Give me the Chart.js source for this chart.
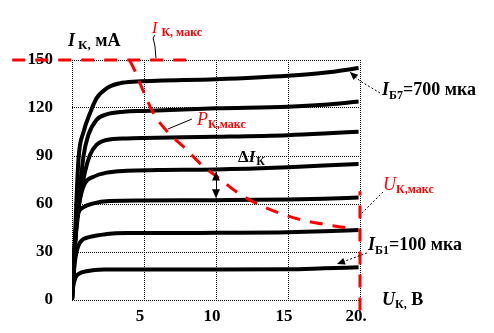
<!DOCTYPE html>
<html>
<head>
<meta charset="utf-8">
<script src="https://cdn.jsdelivr.net/npm/chart.js@4/dist/chart.umd.min.js"></script>
<style>
  html, body { margin: 0; padding: 0; background: #fff; }
  #wrap { width: 494px; height: 333px; }
</style>
</head>
<body>
<div id="wrap"><canvas id="c" width="494" height="333"></canvas></div>
<script>
// Output characteristics of a transistor: I_K (mA) versus U_K (V)
// for base currents 100 ... 700 µA, with the safe-operating limits.

const xTicks = [0, 5, 10, 15, 20];
const yTicks = [0, 30, 60, 90, 120, 150];

// [U_K, I_K] points of each characteristic
const curveIb100 = [[0,0],[0.08,8],[0.25,14],[0.5,16.5],[1.0,18],[2.2,19],[5,19],[10,19],[15,19.2],[17.5,19.8],[19.9,20.4]];
const curveIb200 = [[0,0],[0.1,14],[0.25,27],[0.56,36],[1.25,39.4],[2.4,41.2],[3.8,41.8],[5,41.8],[10,42],[15,42.3],[17.5,42.9],[19.9,43.8]];
const curveIb300 = [[0,0],[0.1,18],[0.33,50],[0.8,58],[1.5,60.4],[2.6,61.8],[5,62.2],[10,62.4],[15,62.8],[17.5,63.3],[19.9,64]];
const curveIb400 = [[0,0],[0.12,22],[0.4,55],[0.6,65],[0.9,73],[1.5,77],[2.4,79.6],[3.8,80.8],[6,81.2],[10,81.6],[15,83],[17.5,84],[19.9,85]];
const curveIb500 = [[0,0],[0.14,26],[0.5,60],[0.9,80],[1.25,90.6],[1.7,96.9],[2.4,100],[3.8,101],[5,101.3],[10,102],[15,103],[17.5,104],[19.9,105.2]];
const curveIb600 = [[0,0],[0.16,30],[0.5,65],[0.8,90],[1.13,103],[1.7,112.5],[2.4,116],[3.6,117.7],[5,118.2],[10,119.8],[15,120.8],[17.5,122],[19.9,124]];
const curveIb700 = [[0,0],[0.18,34],[0.45,88],[0.8,105],[1.25,116.7],[1.7,126],[2.4,132.3],[3.3,135.4],[4.5,136.5],[10,138],[15,140.2],[17.5,142],[19.9,145]];

// Limits: maximum collector power, current and voltage
const pkMax = [[4.0,150],[4.4,142.5],[5.0,129.5],[5.7,116],[6.7,104.5],[7.9,94.5],[9.0,84.5],[10.3,75.5],[11.6,66.5],[13.0,59.5],[14.5,54],[16.2,49.5],[17.7,47],[19.2,45]];
const ikMax = [[-4.15,150],[8.1,150]];
const ukMax = [[20,-6.5],[20,68]];

const FONT = '"Liberation Serif", "Times New Roman", serif';
const RED = '#ff0000';

const toXY = arr => arr.map(([x, y]) => ({ x, y }));

const blackCurve = data => ({
  data: toXY(data),
  borderColor: '#000',
  borderWidth: 4,
  pointRadius: 0,
  cubicInterpolationMode: 'monotone',
  fill: false
});
const redLimit = (data, smooth) => ({
  data: toXY(data),
  borderColor: RED,
  borderWidth: 3,
  borderDash: [13, 10],
  pointRadius: 0,
  cubicInterpolationMode: smooth ? 'monotone' : 'default',
  tension: 0,
  clip: false,
  fill: false
});

// Text blocks with subscripts, anchored in data coordinates (left baseline)
const notes = [
  { u: -0.28, i: 159, color: '#000', parts: [
    { t: 'I', s: 18, it: true }, { t: 'К,', s: 13, dy: 3, dx: 3 }, { t: ' мА', s: 18 } ] },
  { u: 5.56, i: 166.9, color: RED, parts: [
    { t: 'I', s: 16, it: true, bold: false }, { t: 'К, макс', s: 12, dy: 3.5, dx: 4 } ] },
  { u: 8.68, i: 109.4, color: RED, parts: [
    { t: 'P', s: 18, it: true, bold: false }, { t: 'К,макс', s: 12, dy: 3 } ] },
  { u: 11.53, i: 86.4, color: '#000', parts: [
    { t: 'Δ', s: 17 }, { t: 'I', s: 17, it: true }, { t: 'К', s: 12, dy: 3.5, dx: 1 } ] },
  { u: 21.6, i: 68.75, color: RED, parts: [
    { t: 'U', s: 18, it: true, bold: false }, { t: 'К,макс', s: 12, dy: 3 } ] },
  { u: 20.56, i: 31.25, color: '#000', parts: [
    { t: 'I', s: 18, it: true }, { t: 'Б1', s: 12, dy: 4 }, { t: '=100 мка', s: 18 } ] },
  { u: 21.53, i: 128.1, color: '#000', parts: [
    { t: 'I', s: 18, it: true }, { t: 'Б7', s: 12, dy: 4 }, { t: '=700 мка', s: 18 } ] },
  { u: 21.53, i: -3.1, color: '#000', parts: [
    { t: 'U', s: 18, it: true }, { t: 'К,', s: 12, dy: 3 }, { t: ' В', s: 18 } ] }
];

// Thin leader lines from the captions to the marks
const leaders = [
  { pts: [[5.76,165.6],[5.63,163.75],[5.76,158.75],[5.83,151.25]], dash: [] },
  { pts: [[6.67,106.9],[8.33,113.1]], dash: [] },
  { pts: [[21.6,67.5],[20.07,53.75]], dash: [2, 2] },
  { pts: [[20.49,29.4],[18.4,22.5]], dash: [2, 2], arrow: true },
  { pts: [[21.39,129.4],[20,136.9],[19.3,142.5]], dash: [2, 2], arrow: true }
];

function arrowHead(ctx, tx, ty, fx, fy, len, half) {
  const a = Math.atan2(ty - fy, tx - fx);
  ctx.beginPath();
  ctx.moveTo(tx, ty);
  ctx.lineTo(tx - len * Math.cos(a) + half * Math.sin(a), ty - len * Math.sin(a) - half * Math.cos(a));
  ctx.lineTo(tx - len * Math.cos(a) - half * Math.sin(a), ty - len * Math.sin(a) + half * Math.cos(a));
  ctx.closePath();
  ctx.fill();
}

const annotations = {
  id: 'annotations',
  afterDatasetsDraw(chart) {
    const { ctx, scales: { x, y } } = chart;
    const P = (u, i) => [x.getPixelForValue(u), y.getPixelForValue(i)];
    ctx.save();

    // ΔI_K double arrow between the 300 and 400 µA curves at U_K = 10 V
    const uA = 10;
    const top = curveIb400.find(p => p[0] === uA)[1];
    const bot = curveIb300.find(p => p[0] === uA)[1];
    const [ax, ay1] = P(uA, top);
    const [, ay2] = P(uA, bot);
    ctx.strokeStyle = '#000';
    ctx.fillStyle = '#000';
    ctx.lineWidth = 1;
    ctx.beginPath();
    ctx.moveTo(Math.round(ax) + 0.5, ay1 + 3);
    ctx.lineTo(Math.round(ax) + 0.5, ay2 - 3);
    ctx.stroke();
    arrowHead(ctx, ax, ay1 + 2, ax, ay1 + 12, 9, 4);
    arrowHead(ctx, ax, ay2 - 2, ax, ay2 - 12, 9, 4);

    // leader lines
    leaders.forEach(l => {
      const pts = l.pts.map(([u, i]) => P(u, i));
      ctx.setLineDash(l.dash);
      ctx.lineWidth = 1;
      ctx.beginPath();
      pts.forEach(([px, py], k) => (k ? ctx.lineTo(px, py) : ctx.moveTo(px, py)));
      ctx.stroke();
      ctx.setLineDash([]);
      if (l.arrow) {
        const n = pts.length;
        arrowHead(ctx, pts[n - 1][0], pts[n - 1][1], pts[n - 2][0], pts[n - 2][1], 8, 3.5);
      }
    });

    // captions
    ctx.textBaseline = 'alphabetic';
    ctx.textAlign = 'left';
    notes.forEach(n => {
      let [cx, cy] = P(n.u, n.i);
      ctx.fillStyle = n.color;
      n.parts.forEach(p => {
        ctx.font = `${p.it ? 'italic ' : ''}${p.bold === false ? '' : 'bold '}${p.s}px ${FONT}`;
        cx += p.dx || 0;
        ctx.fillText(p.t, cx, cy + (p.dy || 0));
        cx += ctx.measureText(p.t).width;
      });
    });
    ctx.restore();
  }
};

new Chart(document.getElementById('c'), {
  type: 'line',
  data: {
    datasets: [
      redLimit(pkMax, true),
      redLimit(ikMax, false),
      redLimit(ukMax, false),
      blackCurve(curveIb100),
      blackCurve(curveIb200),
      blackCurve(curveIb300),
      blackCurve(curveIb400),
      blackCurve(curveIb500),
      blackCurve(curveIb600),
      blackCurve(curveIb700)
    ]
  },
  options: {
    responsive: false,
    animation: false,
    devicePixelRatio: 1,
    layout: { padding: { left: 0, top: 60, right: 134, bottom: 0 } },
    plugins: { legend: { display: false }, tooltip: { enabled: false } },
    scales: {
      x: {
        type: 'linear',
        min: 0,
        max: 20,
        afterFit: s => { s.height = 33; },
        afterBuildTicks: s => { s.ticks = xTicks.map(v => ({ value: v })); },
        border: { display: false, dash: [1, 1] },
        grid: { color: '#000', lineWidth: 1, drawTicks: false },
        ticks: {
          padding: 6,
          labelOffset: -4,
          color: '#000',
          font: { family: FONT, size: 17, weight: 'bold' },
          maxRotation: 0,
          autoSkip: false,
          callback: v => (v === 0 ? '' : v === 20 ? '20.' : String(v))
        }
      },
      y: {
        type: 'linear',
        min: 0,
        max: 150,
        afterFit: s => { s.width = 72; },
        afterBuildTicks: s => { s.ticks = yTicks.map(v => ({ value: v })); },
        border: { display: false, dash: [1, 1] },
        grid: { color: '#000', lineWidth: 1, drawTicks: false },
        ticks: {
          padding: 19,
          color: '#000',
          font: { family: FONT, size: 17, weight: 'bold' },
          autoSkip: false
        }
      }
    }
  },
  plugins: [annotations]
});
</script>
</body>
</html>
